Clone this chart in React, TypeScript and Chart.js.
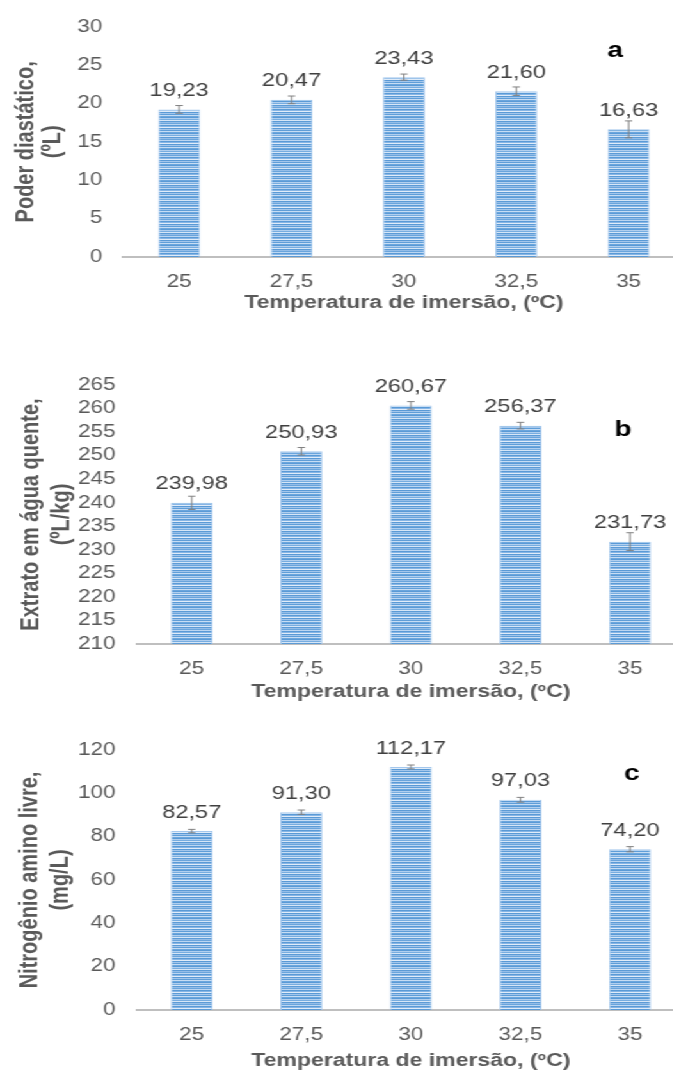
import React, { useEffect, useRef } from 'react';
import { Chart, registerables } from 'chart.js';

Chart.register(...registerables);

// Immersion temperatures (ºC) shared by the three panels
const temperatures = ['25', '27,5', '30', '32,5', '35'];

// (a) diastatic power, ºL
const diastaticPower = [19.23, 20.47, 23.43, 21.6, 16.63];
const diastaticPowerErr = [0.5, 0.5, 0.4, 0.55, 1.1];
const diastaticAxis = [0, 30, 5]; // min, max, step

// (b) hot water extract, ºL/kg
const hotWaterExtract = [239.98, 250.93, 260.67, 256.37, 231.73];
const hotWaterExtractErr = [1.4, 0.8, 0.8, 0.7, 1.9];
const extractAxis = [210, 265, 5];

// (c) free amino nitrogen, mg/L
const aminoNitrogen = [82.57, 91.3, 112.17, 97.03, 74.2];
const aminoNitrogenErr = [0.8, 1.0, 0.9, 1.1, 1.2];
const aminoAxis = [0, 120, 20];

const X_TITLE = 'Temperatura de imersão, (ºC)';

// ---- presentation ----
const FONT = '"Liberation Sans", Arial, sans-serif';
const X_STRETCH = 1.28;
const CANVAS_W = 535;
const STRIPES = [
  '#5a9ad6', '#a3c6ec', '#5f9ed8', '#c7ddf4', '#6ba6dd', '#5a9ad6', '#b1cfef', '#77ade0',
  '#d6e6f7', '#5c9bd6', '#94bde8', '#6aa5dc', '#bcd6f2', '#5a9ad6', '#86b5e5', '#e0ecf9',
];

type Panel = {
  tag: string;
  values: number[];
  errors: number[];
  axis: number[];
  yTitle: string[];
  top: number;
  height: number;
  padTop: number;
  plotBottom: number;
  yAxisWidth: number;
  yTickPad: number;
  yTitlePad: number;
  yTitleLH: number;
  barPct: number;
  xTickPad: number;
  xTitlePadBottom: number;
  tagX: number;
  tagY: number;
};

const panels: Panel[] = [
  {
    tag: 'a', values: diastaticPower, errors: diastaticPowerErr, axis: diastaticAxis,
    yTitle: ['Poder diastático,', '(ºL)'],
    top: 0, height: 330, padTop: 20, plotBottom: 257,
    yAxisWidth: 96.1, yTickPad: 16.2, yTitlePad: 10, yTitleLH: 21, barPct: 0.373,
    xTickPad: 14.2, xTitlePadBottom: 16.2, tagX: 480.5, tagY: 56.7,
  },
  {
    tag: 'b', values: hotWaterExtract, errors: hotWaterExtractErr, axis: extractAxis,
    yTitle: ['Extrato em água quente,', '(ºL/kg)'],
    top: 330, height: 375, padTop: 55, plotBottom: 314,
    yAxisWidth: 107, yTickPad: 16.8, yTitlePad: 12.3, yTitleLH: 24, barPct: 0.383,
    xTickPad: 14.5, xTitlePadBottom: 1.7, tagX: 486.7, tagY: 106,
  },
  {
    tag: 'c', values: aminoNitrogen, errors: aminoNitrogenErr, axis: aminoAxis,
    yTitle: ['Nitrogênio amino livre,', '(mg/L)'],
    top: 705, height: 370, padTop: 45, plotBottom: 305,
    yAxisWidth: 107, yTickPad: 16.8, yTitlePad: 11.9, yTitleLH: 24, barPct: 0.383,
    xTickPad: 14.5, xTitlePadBottom: 3.2, tagX: 493.7, tagY: 75,
  },
];

function makeStripePattern(ctx: CanvasRenderingContext2D): CanvasPattern | string {
  const tile = document.createElement('canvas');
  tile.width = 4;
  tile.height = STRIPES.length;
  const t = tile.getContext('2d');
  if (!t) return STRIPES[0];
  STRIPES.forEach((c, i) => {
    t.fillStyle = c;
    t.fillRect(0, i, 4, 1);
  });
  return ctx.createPattern(tile, 'repeat') || STRIPES[0];
}

const fmt = (v: number) => v.toFixed(2).replace('.', ',');

function BarPanel({ p }: { p: Panel }) {
  const ref = useRef<HTMLCanvasElement>(null);

  useEffect(() => {
    const canvas = ref.current;
    if (!canvas) return;
    const ctx = canvas.getContext('2d');
    if (!ctx) return;
    const fill = makeStripePattern(ctx);

    const overlay = {
      id: 'errorsAndLabels',
      afterDatasetsDraw(chart: any) {
        const c = chart.ctx as CanvasRenderingContext2D;
        const yScale = chart.scales.y;
        const meta = chart.getDatasetMeta(0);
        c.save();
        meta.data.forEach((bar: any, i: number) => {
          const v = p.values[i];
          const e = p.errors[i];
          const x = bar.x;
          const hi = yScale.getPixelForValue(v + e);
          const lo = yScale.getPixelForValue(v - e);
          c.strokeStyle = '#808080';
          c.lineWidth = 1;
          c.beginPath();
          c.moveTo(x, hi);
          c.lineTo(x, lo);
          c.moveTo(x - 2.9, hi);
          c.lineTo(x + 2.9, hi);
          c.moveTo(x - 2.9, lo);
          c.lineTo(x + 2.9, lo);
          c.stroke();

          c.fillStyle = '#404040';
          c.font = `18.5px ${FONT}`;
          c.textAlign = 'center';
          c.textBaseline = 'middle';
          c.fillText(fmt(v), x, bar.y - 18.5);
        });
        c.fillStyle = '#000000';
        c.font = `bold 22px ${FONT}`;
        c.textAlign = 'center';
        c.textBaseline = 'alphabetic';
        c.fillText(p.tag, p.tagX, p.tagY);
        c.restore();
      },
    };

    const chart = new Chart(canvas, {
      type: 'bar',
      data: {
        labels: temperatures,
        datasets: [
          {
            data: p.values,
            backgroundColor: fill as any,
            borderColor: '#a4c7ec',
            borderWidth: 1,
            barPercentage: p.barPct,
            categoryPercentage: 1,
          },
        ],
      },
      options: {
        animation: false,
        responsive: false,
        devicePixelRatio: 1,
        layout: { padding: { top: p.padTop, left: 0, right: 0, bottom: 0 } },
        plugins: {
          legend: { display: false },
          tooltip: { enabled: false },
        },
        scales: {
          x: {
            grid: { display: false, drawTicks: false },
            border: { display: true, color: '#bfbfbf', width: 2 },
            ticks: {
              color: '#595959',
              font: { family: FONT, size: 17.5 },
              padding: p.xTickPad,
              maxRotation: 0,
              autoSkip: false,
            },
            title: {
              display: true,
              text: X_TITLE,
              color: '#595959',
              font: { family: FONT, size: 18, weight: 'bold' },
              padding: { top: 0, bottom: p.xTitlePadBottom },
            },
            afterFit: (scale: any) => {
              scale.height = p.height - p.plotBottom;
            },
          },
          y: {
            min: p.axis[0],
            max: p.axis[1],
            grid: { display: false, drawTicks: false },
            border: { display: false },
            ticks: {
              stepSize: p.axis[2],
              color: '#595959',
              font: { family: FONT, size: 17.5 },
              padding: p.yTickPad,
              autoSkip: false,
              maxTicksLimit: 20,
              callback: (v: any) => String(v),
            },
            title: {
              display: true,
              text: p.yTitle,
              color: '#595959',
              font: { family: FONT, size: 20, weight: 'bold', lineHeight: `${p.yTitleLH}px` },
              padding: { top: p.yTitlePad, bottom: 0 },
            },
            afterFit: (scale: any) => {
              scale.width = p.yAxisWidth;
            },
          },
        },
      },
      plugins: [overlay],
    });

    return () => chart.destroy();
  }, [p]);

  return (
    <canvas
      ref={ref}
      width={CANVAS_W}
      height={p.height}
      style={{ position: 'absolute', left: 0, top: p.top, display: 'block' }}
    />
  );
}

export default function App() {
  return (
    <div
      style={{
        position: 'absolute',
        left: 0,
        top: 0,
        width: 673,
        height: 1075,
        overflow: 'hidden',
        background: '#ffffff',
      }}
    >
      <div
        style={{
          position: 'absolute',
          left: 0,
          top: 0,
          width: CANVAS_W,
          height: 1075,
          transform: `scaleX(${X_STRETCH})`,
          transformOrigin: '0 0',
        }}
      >
        {panels.map((p) => (
          <BarPanel key={p.tag} p={p} />
        ))}
      </div>
    </div>
  );
}
